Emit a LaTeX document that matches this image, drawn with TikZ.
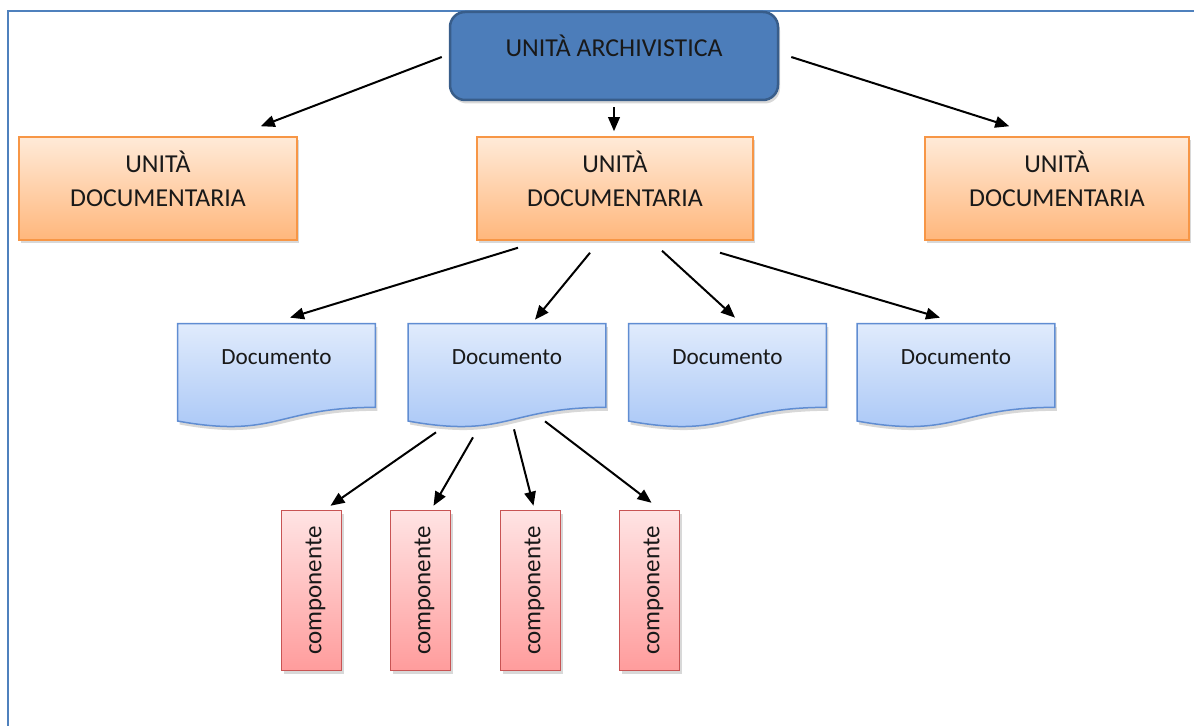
\documentclass[tikz,border=0pt]{standalone}
\usepackage{fontspec}
\setmainfont{Carlito}
\usepackage{graphicx}
\usetikzlibrary{shadows,calc,arrows.meta,backgrounds}
\definecolor{frameblue}{RGB}{79,129,189}
\definecolor{topfill}{RGB}{76,125,186}
\definecolor{topdraw}{RGB}{56,93,138}
\definecolor{orgtop}{RGB}{255,234,216}
\definecolor{orgbot}{RGB}{255,183,124}
\definecolor{orgdraw}{RGB}{247,150,70}
\definecolor{doctop}{RGB}{224,235,252}
\definecolor{docbot}{RGB}{166,197,246}
\definecolor{docdraw}{RGB}{96,141,210}
\definecolor{comptop}{RGB}{255,228,228}
\definecolor{compbot}{RGB}{255,156,156}
\definecolor{compdraw}{RGB}{200,84,84}
\definecolor{txt}{RGB}{25,25,25}
\tikzset{
  shad/.style={drop shadow={shadow xshift=0.4mm,shadow yshift=-0.7mm,opacity=0.25,fill=black!60}},
  archbox/.style={rectangle,rounded corners=3mm,fill=topfill,draw=topdraw,line width=0.5mm,
    minimum width=65.6mm,minimum height=17.6mm,inner sep=0pt,shad},
  udoc/.style={rectangle,top color=orgtop,bottom color=orgbot,draw=orgdraw,line width=0.3mm,
    minimum height=20.6mm,inner sep=0pt,shad},
  docrect/.style={rectangle,draw=none,minimum width=39.4mm,minimum height=16.6mm,inner sep=0pt},
  docshape/.style={top color=doctop,bottom color=docbot,draw=docdraw,line width=0.3mm,shad},
  comp/.style={rectangle,top color=comptop,bottom color=compbot,draw=compdraw,line width=0.3mm,
    minimum width=12mm,minimum height=32mm,inner sep=0pt,shad},
  arr/.style={line width=0.4mm,-{Triangle[length=2.8mm,width=2.3mm]}},
  bigtxt/.style={font=\fontsize{14.7}{19.5}\selectfont,text=txt,align=center},
  doctxt/.style={font=\fontsize{13.2}{16}\selectfont,text=txt},
  comptxt/.style={font=\fontsize{14.2}{16}\selectfont,text=txt},
}
\newcommand\docwave[1]{%
  \path[docshape] (#1.north west) -- (#1.north east) -- (#1.south east)
    .. controls (#1.south) and ($(#1.south)+(0,31.6)$) .. ($(#1.south west)+(0,13.7)$) -- cycle;}
\begin{document}
\begin{tikzpicture}[x=0.2mm,y=-0.2mm]
\useasboundingbox (0,0) rectangle (1194,726);
\begin{scope}[on background layer]
\fill[white] (0,0) rectangle (1194,726);
\end{scope}
\draw[frameblue,line width=0.45mm] (8,730) -- (8,11) -- (1200,11);

% top
\node[archbox,label={[bigtxt,yshift=2mm]center:UNITÀ ARCHIVISTICA}] (arch) at (614,56) {};

% unità documentarie
\node[udoc,minimum width=55.6mm,label={[bigtxt,yshift=1.9mm]center:UNITÀ\\DOCUMENTARIA}] (u1) at (158,188.5) {};
\node[udoc,minimum width=55.2mm,label={[bigtxt,yshift=1.9mm]center:UNITÀ\\DOCUMENTARIA}] (u2) at (615,188.5) {};
\node[udoc,minimum width=52.8mm,label={[bigtxt,yshift=1.9mm]center:UNITÀ\\DOCUMENTARIA}] (u3) at (1057,188.5) {};

% documenti
\node[docrect,label={[doctxt,yshift=1.7mm]center:Documento}] (d1) at (276.5,365.5) {};
\node[docrect,label={[doctxt,yshift=1.7mm]center:Documento}] (d2) at (507,365.5) {};
\node[docrect,label={[doctxt,yshift=1.7mm]center:Documento}] (d3) at (727.5,365.5) {};
\node[docrect,label={[doctxt,yshift=1.7mm]center:Documento}] (d4) at (956,365.5) {};
\begin{scope}[on background layer]
\docwave{d1}\docwave{d2}\docwave{d3}\docwave{d4}
\end{scope}

% componenti
\node[comp,label={[comptxt,xshift=0.8mm]center:\rotatebox{90}{componente}}] (c1) at (311.5,590.5) {};
\node[comp,label={[comptxt,xshift=0.8mm]center:\rotatebox{90}{componente}}] (c2) at (420.5,590.5) {};
\node[comp,label={[comptxt,xshift=0.8mm]center:\rotatebox{90}{componente}}] (c3) at (530.5,590.5) {};
\node[comp,label={[comptxt,xshift=0.8mm]center:\rotatebox{90}{componente}}] (c4) at (649.5,590.5) {};

% connectors
\draw[arr] ($(arch.west)+(-7,1)$) -- ($(u1.north east)+(-37,-10)$);
\draw[arr] ($(arch.south)+(0,6)$) -- ($(u2.north)+(-1,-5)$);
\draw[arr] ($(arch.east)+(12,1)$) -- ($(u3.north west)+(85,-10)$);

\draw[arr] ($(u2.south)+(-97,7)$) -- ($(d1.north)+(13.5,-6)$);
\draw[arr] ($(u2.south)+(-25,12)$) -- ($(d2.north)+(28,-4)$);
\draw[arr] ($(u2.south)+(47,10)$) -- ($(d3.north)+(7.5,-6)$);
\draw[arr] ($(u2.south)+(105,12)$) -- ($(d4.north)+(-16,-6)$);

\draw[arr] ($(d2.south)+(-71,25)$) -- ($(c1.north)+(19,-4)$);
\draw[arr] ($(d2.south)+(-34,30)$) -- ($(c2.north)+(13,-4)$);
\draw[arr] ($(d2.south)+(7,22)$) -- ($(c3.north)+(3,-4)$);
\draw[arr] ($(d2.south)+(38,14)$) -- ($(c4.north)+(2,-7)$);
\end{tikzpicture}
\end{document}
